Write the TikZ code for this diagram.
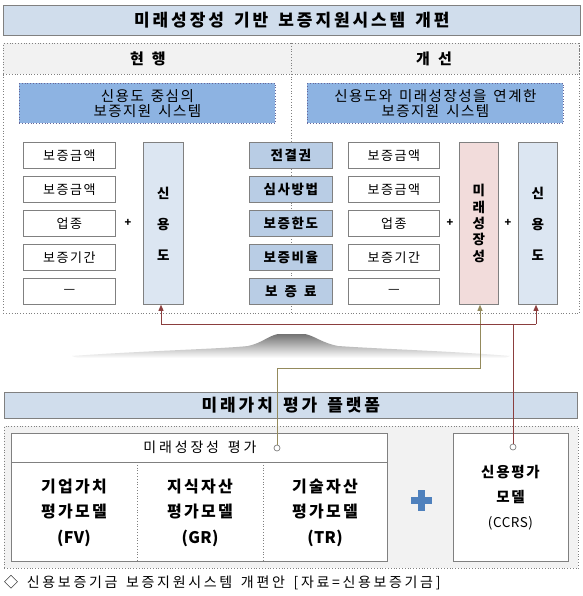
\documentclass[tikz,border=0pt]{standalone}
\usepackage{fontspec}
\setmainfont{Noto Sans CJK KR}[WordSpace=1.5,LetterSpace=12]
\usetikzlibrary{arrows.meta}
\definecolor{ttl}{HTML}{D0DDEC}
\definecolor{hdr}{HTML}{F2F2F2}
\definecolor{subc}{HTML}{8DB3E2}
\definecolor{midc}{HTML}{B9CDE5}
\definecolor{credc}{HTML}{DCE6F2}
\definecolor{pinkc}{HTML}{F2DCDB}
\definecolor{bord}{HTML}{808080}
\definecolor{redl}{HTML}{8B3E3E}
\definecolor{olivel}{HTML}{948A5C}
\definecolor{plusc}{HTML}{4F81BD}
\newcommand{\lat}[1]{{\addfontfeatures{LetterSpace=2}#1}}
\begin{document}
\begin{tikzpicture}[x=1pt,y=-1pt,
  box/.style={draw=bord, line width=0.8pt, inner sep=0pt, anchor=north west},
  smallbox/.style={box, fill=white, minimum width=92, minimum height=26, font=\fontsize{13}{15}\selectfont},
  midbox/.style={box, fill=midc, minimum width=83, minimum height=26, font=\fontsize{13.5}{15}\selectfont\bfseries},
  tallbox/.style={box, minimum width=40, minimum height=162, align=center, font=\fontsize{13.5}{17}\selectfont\bfseries},
  plustxt/.style={font=\fontsize{11}{12}\selectfont\bfseries, inner sep=0pt},
  coltxt/.style={align=center, font=\fontsize{16}{25.5}\selectfont\bfseries\addfontfeatures{LetterSpace=14}, inner sep=0pt},
  ttltxt/.style={font=\fontsize{17}{19}\selectfont\bfseries\addfontfeatures{LetterSpace=17}},
  subtxt/.style={align=center, font=\fontsize{14.5}{15}\selectfont\addfontfeatures{LetterSpace=10}},
  tip/.style={-{Triangle[width=5pt,length=6pt]}},
  dotc/.style={circle, draw=bord, fill=white, line width=0.7pt, inner sep=0pt, minimum size=6},
]
\fill[white] (0,0) rectangle (582,596);
\useasboundingbox (0,0) rectangle (582,596);

% title
\node[box, fill=ttl, minimum width=577, minimum height=30, ttltxt] (title) at (3,5) {미래성장성 기반 보증지원시스템 개편};

% upper section frame
\node[box, dotted, fill=white, minimum width=576, minimum height=270] (upper) at (3,43) {};
\node[box, dotted, fill=hdr, minimum width=576, minimum height=31] (hdrrow) at (3,43) {};
\draw[bord, dotted, line width=0.8pt] (291,43) -- (291,313);
\node[font=\fontsize{15}{16}\selectfont\bfseries] (hL) at (148,59) {현\hspace{8pt}행};
\node[font=\fontsize{15}{16}\selectfont\bfseries] (hR) at (434,59) {개\hspace{8pt}선};

\node[box, dotted, draw=bord!80!blue, fill=subc, minimum width=256, minimum height=40, subtxt] (subL) at (19,83) {신용도 중심의\\보증지원 시스템};
\node[box, dotted, draw=bord!80!blue, fill=subc, minimum width=256, minimum height=40, subtxt] (subR) at (307,83) {신용도와 미래성장성을 연계한\\보증지원 시스템};

\foreach \i/\t in {1/보증금액,2/보증금액,3/업종,4/보증기간,5/—}{
  \node[smallbox] (l\i) at (23,{142+34*(\i-1)}) {\t};
  \node[smallbox, minimum width=91] (r\i) at (348,{142+34*(\i-1)}) {\t};
}
\foreach \i/\t in {1/전결권,2/심사방법,3/보증한도,4/보증비율,5/보 증 료}{
  \node[midbox] (m\i) at (249,{142+34*(\i-1)}) {\t};
}
\node[tallbox, fill=credc] (sinL) at (143,142) {신\\[14pt]용\\[14pt]도};
\node[tallbox, fill=pinkc, minimum width=39, font=\fontsize{13.5}{16.3}\selectfont\bfseries] (mirae) at (459,142) {미\\래\\성\\장\\성};
\node[tallbox, fill=credc, minimum width=39] (sinR) at (518,142) {신\\[14pt]용\\[14pt]도};
\node[plustxt] (p1) at (128,223) {+};
\node[plustxt] (p2) at (450,223) {+};
\node[plustxt] (p3) at (508,223) {+};

% mountain
\shade[top color=black!55, bottom color=white]
  (72,356) .. controls (140,351) and (220,349) .. (248,346)
  .. controls (262,343) and (268,336) .. (278,334) -- (305,334)
  .. controls (315,336) and (322,343) .. (338,346)
  .. controls (380,349) and (450,351) .. (510,356)
  -- (505,358) -- (78,358) -- cycle;

% platform title
\node[box, fill=ttl, minimum width=573, minimum height=26, ttltxt] (title2) at (4,392) {미래가치 평가 플랫폼};

% lower section
\node[box, dotted, fill=hdr, minimum width=574, minimum height=142] (lower) at (4,426) {};
\node[box, fill=white, minimum width=376, minimum height=128] (evalbox) at (11,433) {};
\draw[bord, line width=0.8pt] (11,462) -- (387,462);
\draw[bord, dotted, line width=0.8pt] (137,462) -- (137,561);
\draw[bord, dotted, line width=0.8pt] (263,462) -- (263,561);
\node[font=\fontsize{14}{15}\selectfont\addfontfeatures{LetterSpace=20}] (evalt) at (200,447) {미래성장성 평가};
\node[coltxt] (c1) at (74,512.5) {기업가치\\평가모델\\\lat{(FV)}};
\node[coltxt] (c2) at (200,512.5) {지식자산\\평가모델\\\lat{(GR)}};
\node[coltxt] (c3) at (325,512.5) {기술자산\\평가모델\\\lat{(TR)}};
\node[box, fill=white, minimum width=115, minimum height=128] (ccrs) at (453,433) {};
\node[align=center, font=\fontsize{14.5}{25}\selectfont\bfseries\addfontfeatures{LetterSpace=12}, inner sep=0pt] (ccrst) at (510.5,498) {신용평가\\모델\\{\mdseries\fontsize{13.5}{25}\selectfont\addfontfeatures{LetterSpace=4}(CCRS)}};
\fill[plusc] (410.5,496.5) rectangle (431.5,503.5);
\fill[plusc] (417.5,489.5) rectangle (424.5,510.5);

% connectors
\node[dotc] (dotE) at (277,448) {};
\node[dotc] (dotC) at (513,447) {};
\coordinate (rl) at (161,324);
\coordinate (rr) at (536,324);
\coordinate (ov) at (480,368);
\draw[olivel, line width=0.9pt, tip] (dotE.north) |- (ov) -- (ov |- mirae.south);
\draw[redl, line width=0.9pt] (dotC.north) -- (dotC.north |- rl);
\draw[redl, line width=0.9pt] (rl) -- (rr);
\draw[redl, line width=0.9pt, tip] (rl) -- (rl |- sinL.south);
\draw[redl, line width=0.9pt, tip] (rr) -- (rr |- sinR.south);

% caption
\node[anchor=west, inner sep=0pt, font=\fontsize{14}{15}\selectfont\addfontfeatures{LetterSpace=19}] (cap) at (4,583) {◇ 신용보증기금 보증지원시스템 개편안 [자료=신용보증기금]};
\end{tikzpicture}
\end{document}
